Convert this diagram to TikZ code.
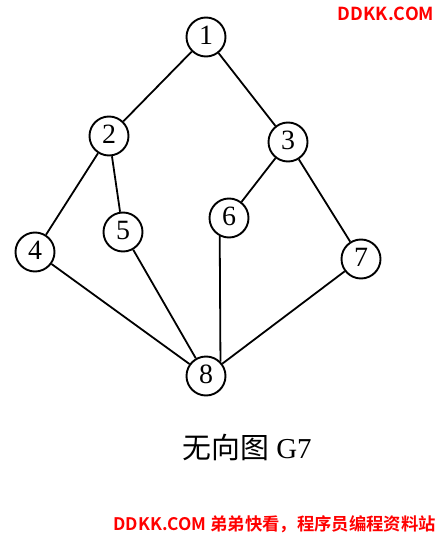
\documentclass[tikz,border=0pt]{standalone}
\usepackage{fontspec}
\setmainfont{Liberation Serif}
\newfontfamily\cjk{Noto Sans CJK SC}
\newfontfamily\cjkwm{Noto Sans CJK SC}[BoldFont={Noto Sans CJK SC Bold}]
\definecolor{wmred}{RGB}{255,0,0}
\begin{document}
\begin{tikzpicture}[x=1bp,y=-1bp,
  vtx/.style={circle,draw,line width=1.9bp,minimum size=39bp,inner sep=0pt,
    font=\fontsize{28}{28}\selectfont},
  edge/.style={line width=1.8bp},
  wm/.style={text=wmred,font=\cjkwm\bfseries\fontsize{18}{18}\selectfont,inner sep=0pt}]
\useasboundingbox (0,0) rectangle (438,536);
\node[vtx] (n1) at (206,37) {\raisebox{3bp}{1}};
\node[vtx] (n2) at (109,136) {\raisebox{3bp}{2}};
\node[vtx] (n3) at (288,142) {\raisebox{3bp}{3}};
\node[vtx] (n4) at (35,252) {\raisebox{3bp}{4}};
\node[vtx] (n5) at (123,232) {\raisebox{3bp}{5}};
\node[vtx] (n6) at (229,218) {\raisebox{3bp}{6}};
\node[vtx] (n7) at (361,259) {\raisebox{3bp}{7}};
\node[vtx] (n8) at (206,376) {\raisebox{3bp}{8}};
\draw[edge] (n1) -- (n2);
\draw[edge] (n1) -- (n3);
\draw[edge] (n2) -- (n4);
\draw[edge] (n2) -- (n5);
\draw[edge] (n3) -- (n6);
\draw[edge] (n3) -- (n7);
\draw[edge] (n4) -- (n8);
\draw[edge] (n5) -- (n8);
\draw[edge] (n6.243) -- (n8.45);
\draw[edge] (n7) -- (n8);
\node[font=\fontsize{29}{29}\selectfont] (cap) at (247,447) {{\cjk 无向图} G7};
\node[wm] (wm1) at (386,14) {DDKK.COM};
\node[wm,anchor=east,font=\cjkwm\bfseries\fontsize{17.4}{17.4}\selectfont] (wm2) at (436,524) {DDKK.COM 弟弟快看，程序员编程资料站};
\end{tikzpicture}
\end{document}
